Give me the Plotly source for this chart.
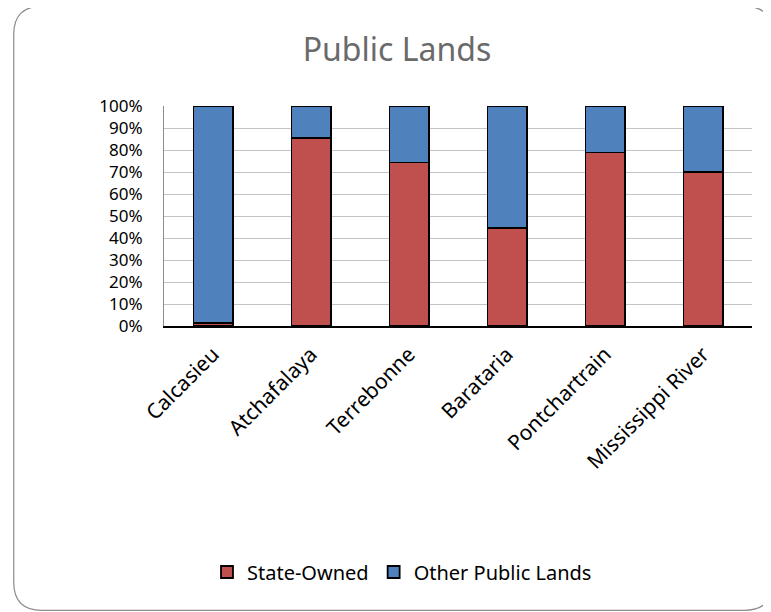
import plotly.graph_objects as go

categories = ["Calcasieu", "Atchafalaya", "Terrebonne", "Barataria", "Pontchartrain", "Mississippi River"]
state_owned = [1.5, 85.6, 74.3, 44.5, 78.9, 70.1]
other_public = [100 - v for v in state_owned]
y_ticks = [0, 10, 20, 30, 40, 50, 60, 70, 80, 90, 100]
y_tick_labels = [f"{t}%" for t in y_ticks]

OFF = 8  # page body margin
W, H = 771 - OFF, 612 - OFF
L, T = 163.5 - OFF, 105.7 - OFF
R = W - (752.5 - OFF)
B = H - (325.7 - OFF)
pw, ph = W - L - R, H - T - B

def px(x):
    return (x - OFF - L) / pw

def py(y):
    return (H - B - (y - OFF)) / ph

fig = go.Figure()
fig.add_trace(go.Bar(x=categories, y=state_owned, name="State-Owned",
                     marker=dict(color="#C0504D", line=dict(color="black", width=1.8))))
fig.add_trace(go.Bar(x=categories, y=other_public, name="Other Public Lands",
                     marker=dict(color="#4F81BD", line=dict(color="black", width=1.8))))

# rounded outer border (reference pixel coords)
x0, x1, y0, y1, r = 13, 773, 6, 610, 28
path = (f"M {px(x0+r)},{py(y0)} L {px(x1-r)},{py(y0)} Q {px(x1)},{py(y0)} {px(x1)},{py(y0+r)} "
        f"L {px(x1)},{py(y1-r)} Q {px(x1)},{py(y1)} {px(x1-r)},{py(y1)} "
        f"L {px(x0+r)},{py(y1)} Q {px(x0)},{py(y1)} {px(x0)},{py(y1-r)} "
        f"L {px(x0)},{py(y0+r)} Q {px(x0)},{py(y0)} {px(x0+r)},{py(y0)} Z")

fig.update_layout(
    width=W, height=H,
    margin=dict(l=L, r=R, t=T, b=B),
    paper_bgcolor="white", plot_bgcolor="white",
    barmode="stack", bargap=0.6,
    font=dict(family="Noto Sans", color="black"),
    title=dict(text="Public Lands", x=(397 - OFF) / W, xref="container", xanchor="center",
               y=1 - (50 - OFF) / H, yanchor="middle",
               font=dict(size=32, color="#6a6a6a", family="Noto Sans")),
    showlegend=True,
    legend=dict(orientation="h", x=(402 - OFF) / W, xref="container", xanchor="center",
                y=1 - (572 - OFF) / H, yref="container", yanchor="middle",
                font=dict(size=20, color="black"), traceorder="normal",
                itemwidth=30),
    shapes=[dict(type="path", path=path, xref="paper", yref="paper",
                 line=dict(color="#8c8c8c", width=1.2), fillcolor="rgba(0,0,0,0)", layer="below")],
)
fig.update_yaxes(range=[0, 100], tickvals=y_ticks, ticktext=y_tick_labels,
                 showgrid=True, gridcolor="#C4C4C4", gridwidth=1,
                 showline=True, linecolor="#8c8c8c", linewidth=1,
                 tickfont=dict(size=17, color="black"), ticks="", ticklabelstandoff=17,
                 zeroline=False)
fig.update_xaxes(showline=True, linecolor="black", linewidth=1.5, tickangle=-45,
                 tickfont=dict(size=21, color="black"), ticks="", showgrid=False,
                 ticklabelstandoff=6)

fig.write_html("out.html")
